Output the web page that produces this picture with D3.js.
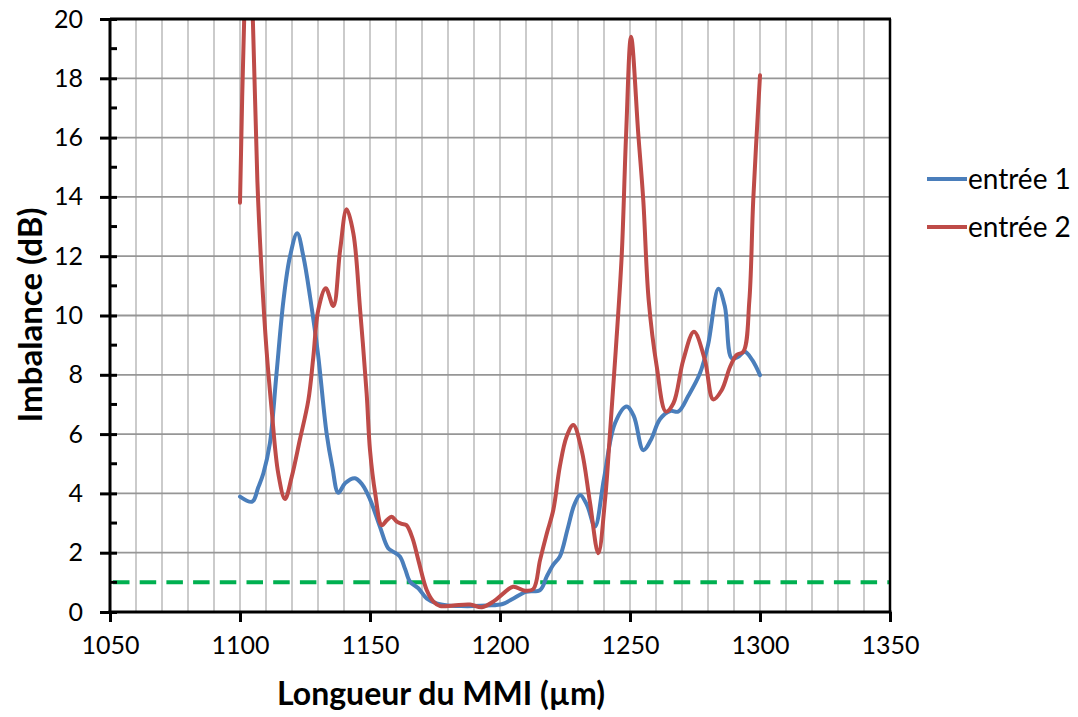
<!DOCTYPE html>
<html>
<head>
<meta charset="utf-8">
<script src="https://cdn.jsdelivr.net/npm/d3@7/dist/d3.min.js"></script>
<style>
  html, body { margin: 0; padding: 0; background: #fff; }
  svg { display: block; font-family: Lato, "Open Sans", sans-serif; }
</style>
</head>
<body>
<svg id="chart" width="1078" height="717"></svg>
<script>
// ---- data ----
const xTicks = [1050, 1100, 1150, 1200, 1250, 1300, 1350];
const yTicks = [0, 2, 4, 6, 8, 10, 12, 14, 16, 18, 20];
const seriesNames = ["entrée 1", "entrée 2"];
const thresholdDb = 1;

const x1 = [1100, 1104.7, 1107, 1109, 1111.5, 1114, 1116.7, 1119.2, 1122, 1124.4, 1127, 1130, 1133.3, 1135.5, 1137.8, 1140.5, 1144.2, 1147, 1150, 1153.8, 1157, 1159, 1161.5, 1163.5, 1165.4, 1168.6, 1171.8, 1175.6, 1180, 1185, 1190, 1195, 1201, 1205, 1210, 1215.4, 1218, 1220.5, 1223, 1226, 1228.5, 1230.8, 1233.5, 1236.5, 1240, 1244.2, 1248.7, 1251.5, 1255.1, 1258, 1261.5, 1265.4, 1268.6, 1272.5, 1276.9, 1280, 1284, 1286.5, 1289.1, 1291.5, 1294.2, 1297, 1300];
const y1 = [3.89, 3.72, 4.2, 4.68, 5.69, 8.0, 10.5, 11.98, 12.77, 11.98, 10.6, 8.7, 6.03, 4.9, 4.02, 4.35, 4.51, 4.3, 3.8, 2.88, 2.15, 2.03, 1.87, 1.45, 1.02, 0.8, 0.46, 0.29, 0.22, 0.2, 0.2, 0.22, 0.27, 0.45, 0.68, 0.74, 1.2, 1.6, 1.87, 2.8, 3.6, 3.95, 3.6, 2.88, 4.5, 6.36, 6.93, 6.6, 5.46, 5.8, 6.5, 6.78, 6.76, 7.3, 8.05, 9.0, 10.9, 10.3, 8.56, 8.6, 8.78, 8.5, 7.99];

const x2 = [1100, 1101.7, 1103.3, 1105, 1106.7, 1108.3, 1110.2, 1112.2, 1114.7, 1117.3, 1119.9, 1123, 1126.3, 1128.2, 1130.1, 1133, 1135.9, 1138.5, 1141, 1143.6, 1146.2, 1148.7, 1150, 1152, 1154.5, 1156.5, 1158.3, 1160.3, 1162.2, 1164, 1166.3, 1168.6, 1171.8, 1174.4, 1177, 1182, 1188.5, 1193, 1197.4, 1201.3, 1205, 1209.6, 1212.8, 1215.4, 1218, 1220.5, 1223, 1225.6, 1228.2, 1231.4, 1234.6, 1237.8, 1240.4, 1242.3, 1244.5, 1246.8, 1248.5, 1250.4, 1253.2, 1255.1, 1257.2, 1260.3, 1263.8, 1266.7, 1270.5, 1274.6, 1278.8, 1282, 1285.3, 1288.5, 1291, 1293.6, 1295.9, 1297.4, 1300];
const y2 = [13.8, 20.3, 23.5, 19.8, 14.5, 11.5, 8.84, 6.8, 4.68, 3.81, 4.56, 5.8, 7.15, 8.6, 10.19, 10.92, 10.32, 12.2, 13.58, 12.77, 10.19, 7.38, 5.46, 4.0, 2.93, 3.1, 3.21, 3.05, 2.97, 2.93, 2.5, 1.75, 0.74, 0.35, 0.2, 0.22, 0.25, 0.16, 0.35, 0.63, 0.85, 0.72, 0.77, 1.75, 2.65, 3.44, 4.9, 5.91, 6.31, 5.46, 3.7, 1.98, 3.78, 6.03, 8.8, 12.0, 16.1, 19.4, 16.1, 13.9, 10.5, 8.27, 6.76, 7.04, 8.5, 9.45, 8.5, 7.17, 7.49, 8.27, 8.67, 8.78, 10.5, 13.9, 18.1];

const colors = ["#4a7ebb", "#be4b48"];

// ---- layout ----
const W = 1078, H = 717;
const m = { left: 110, right: 890, top: 19, bottom: 612 };
const svg = d3.select("#chart");

const x = d3.scaleLinear().domain([1050, 1350]).range([m.left, m.right]);
const y = d3.scaleLinear().domain([0, 20]).range([m.bottom, m.top]);

// vertical grid (every 10)
const vgrid = d3.range(1060, 1350, 10);
svg.append("g").selectAll("line").data(vgrid).join("line")
  .attr("x1", d => x(d)).attr("x2", d => x(d))
  .attr("y1", m.top).attr("y2", m.bottom)
  .attr("stroke", "#c6c6c6").attr("stroke-width", 1.8);

// horizontal grid (every 2)
const hgrid = d3.range(2, 20, 2);
svg.append("g").selectAll("line").data(hgrid).join("line")
  .attr("x1", m.left).attr("x2", m.right)
  .attr("y1", d => y(d)).attr("y2", d => y(d))
  .attr("stroke", "#969696").attr("stroke-width", 1.8);

// threshold dashed line
svg.append("line")
  .attr("x1", m.left + 3).attr("x2", m.right)
  .attr("y1", y(thresholdDb)).attr("y2", y(thresholdDb))
  .attr("stroke", "#00b050").attr("stroke-width", 4)
  .attr("stroke-dasharray", "16.5 10.2");

// clip
svg.append("defs").append("clipPath").attr("id", "clip")
  .append("rect").attr("x", m.left).attr("y", m.top)
  .attr("width", m.right - m.left).attr("height", m.bottom - m.top);

const line = d3.line()
  .x(d => x(d[0])).y(d => y(d[1]))
  .curve(d3.curveCatmullRom.alpha(0.5));

const series = [d3.zip(x1, y1), d3.zip(x2, y2)];
svg.append("g").attr("clip-path", "url(#clip)")
  .selectAll("path").data(series).join("path")
  .attr("d", line)
  .attr("fill", "none")
  .attr("stroke", (d, i) => colors[i])
  .attr("stroke-width", 4)
  .attr("stroke-linejoin", "round")
  .attr("stroke-linecap", "round");

// top & right border
svg.append("line").attr("x1", m.left).attr("x2", m.right + 1)
  .attr("y1", m.top).attr("y2", m.top).attr("stroke", "#000").attr("stroke-width", 3);
svg.append("line").attr("x1", m.right).attr("x2", m.right)
  .attr("y1", m.top).attr("y2", m.bottom).attr("stroke", "#000").attr("stroke-width", 2.5);

// y axis
const yAxis = d3.axisLeft(y).tickValues(yTicks).tickSize(10).tickPadding(17);
const gy = svg.append("g").attr("transform", `translate(${m.left},0)`).call(yAxis);
gy.select(".domain").attr("stroke-width", 3).attr("d", `M0,${m.top}V${m.bottom}`);
gy.selectAll(".tick line").attr("stroke-width", 3).attr("x2", -10).attr("x1", 7);
gy.selectAll(".tick text").attr("font-size", 25).attr("font-family", "Lato").attr("fill", "#000");
// minor y ticks
svg.append("g").selectAll("line").data(d3.range(1, 20, 2)).join("line")
  .attr("x1", m.left).attr("x2", m.left + 7)
  .attr("y1", d => y(d)).attr("y2", d => y(d))
  .attr("stroke", "#000").attr("stroke-width", 3);

// x axis
const xAxis = d3.axisBottom(x).tickValues(xTicks).tickSize(10).tickPadding(14).tickFormat(d3.format("d"));
const gx = svg.append("g").attr("transform", `translate(0,${m.bottom})`).call(xAxis);
gx.select(".domain").attr("stroke-width", 3).attr("d", `M${m.left - 1.5},0H${m.right + 1.5}`);
gx.selectAll(".tick line").attr("stroke-width", 3);
gx.selectAll(".tick text").attr("font-size", 25).attr("font-family", "Lato").attr("fill", "#000");

// axis titles
svg.append("text").attr("x", 441).attr("y", 705)
  .attr("text-anchor", "middle").attr("font-weight", "bold").attr("font-size", 32)
  .text("Longueur du MMI (µm)");
svg.append("text").attr("transform", `translate(42,315) rotate(-90)`)
  .attr("text-anchor", "middle").attr("font-weight", "bold").attr("font-size", 33)
  .text("Imbalance (dB)");

// legend
const leg = svg.append("g");
seriesNames.forEach((name, i) => {
  const ly = 179 + i * 48;
  leg.append("line").attr("x1", 927).attr("x2", 967).attr("y1", ly).attr("y2", ly)
    .attr("stroke", colors[i]).attr("stroke-width", 4);
  leg.append("text").attr("x", 968).attr("y", ly).attr("dy", "0.35em")
    .attr("font-size", 28).attr("fill", "#000").text(name);
});
</script>
</body>
</html>
